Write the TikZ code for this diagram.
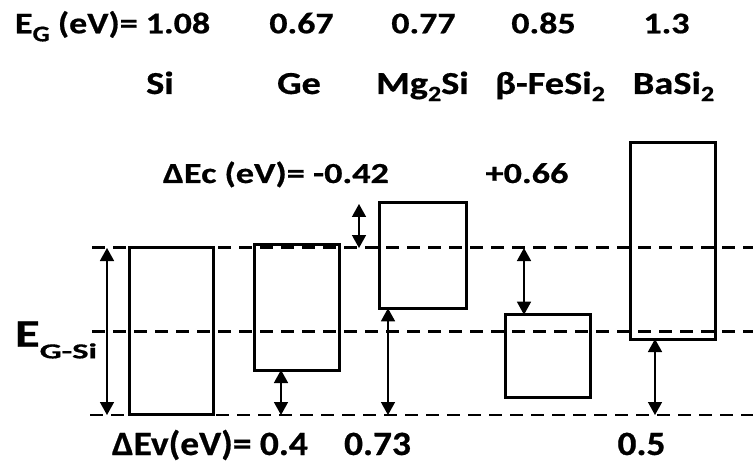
\documentclass[tikz,border=0pt]{standalone}
\usepackage{fontspec}
\setmainfont{Carlito}[BoldFeatures={FakeBold=0.6}]
\usetikzlibrary{arrows.meta}
\newcommand\sbx[1]{\raisebox{-0.22em}{\scalebox{0.68}{#1}}}
\newcommand\T[3]{\scalebox{#1}[1]{\fontsize{#2}{#2}\selectfont #3}}
\begin{document}
\begin{tikzpicture}[x=1pt,y=-1pt,font=\bfseries,
  box/.style={draw, line width=3pt, inner sep=0pt, outer sep=0pt, anchor=north west},
  dline/.style={line width=2.8pt, dash pattern=on 13pt off 8pt},
  dar/.style={line width=1.5pt, {Triangle[width=14pt,length=13pt]}-{Triangle[width=14pt,length=13pt]}},
  lbl/.style={inner sep=0pt, outer sep=0pt}]
\useasboundingbox (0,0) rectangle (753,468);
% dashed reference lines
\coordinate (tl) at (92,247.5); \coordinate (tr) at (753,247.5);
\coordinate (ml) at (92,331.5); \coordinate (mr) at (753,331.5);
\coordinate (bl) at (90,415);   \coordinate (br) at (753,415);
\draw[dline] (tl) -- (tr);
\draw[dline] (ml) -- (mr);
\draw[dline] (bl) -- (br);
% band boxes
\node[box, minimum width=84pt, minimum height=167pt] (si) at (129.5,247.5) {};
\node[box, minimum width=85pt, minimum height=126pt] (ge) at (254.3,244) {};
\node[box, minimum width=87pt, minimum height=105.6pt] (mg) at (379,202.7) {};
\node[box, minimum width=85pt, minimum height=83pt] (fe) at (505.7,314.7) {};
\node[box, minimum width=84.7pt, minimum height=196.7pt] (ba) at (630.3,142.3) {};
% arrows
\coordinate (a1t) at (107,248); \coordinate (a1b) at (107,415);
\coordinate (a2t) at (281,370); \coordinate (a2b) at (281,415);
\coordinate (a3t) at (359,204); \coordinate (a3b) at (359,248);
\coordinate (a4t) at (388,308.3); \coordinate (a4b) at (388,415);
\coordinate (a5t) at (524,248); \coordinate (a5b) at (524,314.7);
\coordinate (a6t) at (655,339); \coordinate (a6b) at (655,415);
\draw[dar] (a1t) -- (a1b);
\draw[dar] (a2t) -- (a2b);
\draw[dar] (a3t) -- (a3b);
\draw[dar] (a4t) -- (a4b);
\draw[dar] (a5t) -- (a5b);
\draw[dar] (a6t) -- (a6b);
% top row
\node[lbl, anchor=base west] (eg) at (15,33.3) {\T{1.2}{30}{E\raisebox{-0.27em}{\scalebox{0.75}{G}} (eV)= 1.08}};
\node[lbl, anchor=base] (g2) at (301.5,33.3) {\T{1.2}{30}{0.67}};
\node[lbl, anchor=base] (g3) at (423.5,33.3) {\T{1.2}{30}{0.77}};
\node[lbl, anchor=base] (g4) at (543.5,33.3) {\T{1.2}{30}{0.85}};
\node[lbl, anchor=base] (g5) at (666.5,33.3) {\T{1.2}{30}{1.3}};
% names
\node[lbl, anchor=base] (n1) at (160,94) {\T{1.2}{32}{Si}};
\node[lbl, anchor=base] (n2) at (299,94) {\T{1.2}{32}{Ge}};
\node[lbl, anchor=base] (n3) at (422.5,94) {\T{1.2}{32}{Mg\sbx{2}Si}};
\node[lbl, anchor=base] (n4) at (550,94) {\T{1.2}{32}{β-FeSi\sbx{2}}};
\node[lbl, anchor=base] (n5) at (673.5,94) {\T{1.2}{32}{BaSi\sbx{2}}};
% Delta Ec row
\node[lbl, anchor=base west] (dec) at (163,183) {\T{1.25}{29}{ΔEc (eV)= -0.42}};
\node[lbl, anchor=base] (dec2) at (527,183) {\T{1.25}{29}{+0.66}};
% EG-Si
\node[lbl, anchor=base west] (egsi) at (15,346.7) {\T{1.3}{39}{E\raisebox{-0.3em}{\scalebox{0.68}[0.55]{G-Si}}}};
% Delta Ev row
\node[lbl, anchor=base west] (dev) at (112,455) {\T{1.1}{34}{ΔEv(eV)= 0.4}};
\node[lbl, anchor=base] (dev2) at (377.5,455) {\T{1.1}{34}{0.73}};
\node[lbl, anchor=base] (dev3) at (641.5,455) {\T{1.1}{34}{0.5}};
\end{tikzpicture}
\end{document}
